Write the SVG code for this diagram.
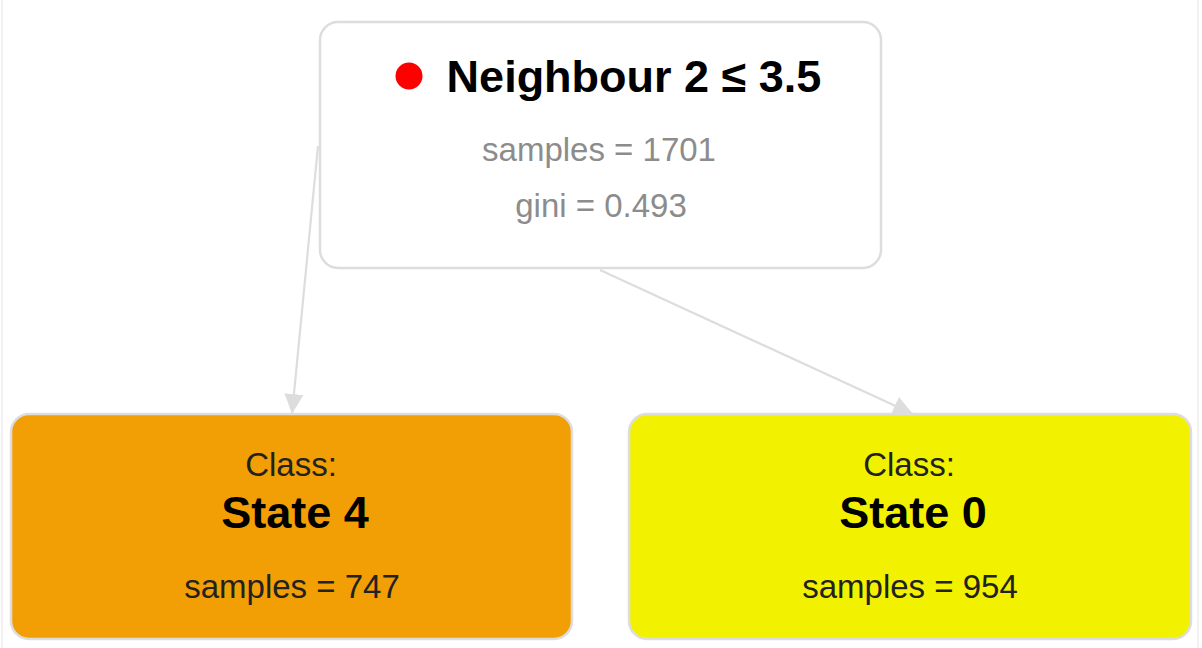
<svg xmlns="http://www.w3.org/2000/svg" width="1202" height="648" viewBox="0 0 1202 648">
<defs>
<style>
.node{stroke:#dddddd;stroke-width:2.5}
.edge{stroke:#dddddd;stroke-width:2.2;fill:none}
.title{font-family:"Liberation Sans",Arial,sans-serif;font-weight:bold;font-size:45px;fill:#000;text-anchor:middle}
.stat{font-family:"Liberation Sans",Arial,sans-serif;font-size:33px;fill:#8c8c8c;text-anchor:middle}
.lbl{font-family:"Liberation Sans",Arial,sans-serif;font-size:33px;fill:#222;text-anchor:middle}
</style>
<marker id="arr" markerUnits="userSpaceOnUse" markerWidth="22" markerHeight="22" viewBox="0 0 22 22" refX="20" refY="11" orient="auto">
<path d="M0,1.5 L20,11 L0,20.5 Z" fill="#dddddd"/>
</marker>
</defs>
<rect x="2" y="-2" width="1196" height="652" fill="#fff" stroke="#eeeeee" stroke-width="1.5"/>
<g id="connectors">
<path class="edge" d="M318,146 L292,414" marker-end="url(#arr)"/>
<path class="edge" d="M600,270 L913,414" marker-end="url(#arr)"/>
</g>
<g id="root">
<rect class="node" x="320" y="22" width="561" height="246" rx="18" fill="#ffffff"/>
<circle cx="409" cy="76" r="13.5" fill="#ff0000"/>
<text class="title" x="634" y="92">Neighbour 2 ≤ 3.5</text>
<text class="stat" x="599" y="161">samples = 1701</text>
<text class="stat" x="601" y="217">gini = 0.493</text>
</g>
<g id="state4">
<rect class="node" x="11" y="414" width="561" height="225" rx="18" fill="#f29e05"/>
<text class="lbl" x="291" y="476">Class:</text>
<text class="title" x="295" y="528">State 4</text>
<text class="lbl" x="292" y="598">samples = 747</text>
</g>
<g id="state0">
<rect class="node" x="629" y="414" width="562" height="225" rx="18" fill="#f2f200"/>
<text class="lbl" x="909" y="476">Class:</text>
<text class="title" x="913" y="528">State 0</text>
<text class="lbl" x="910" y="598">samples = 954</text>
</g>
</svg>
